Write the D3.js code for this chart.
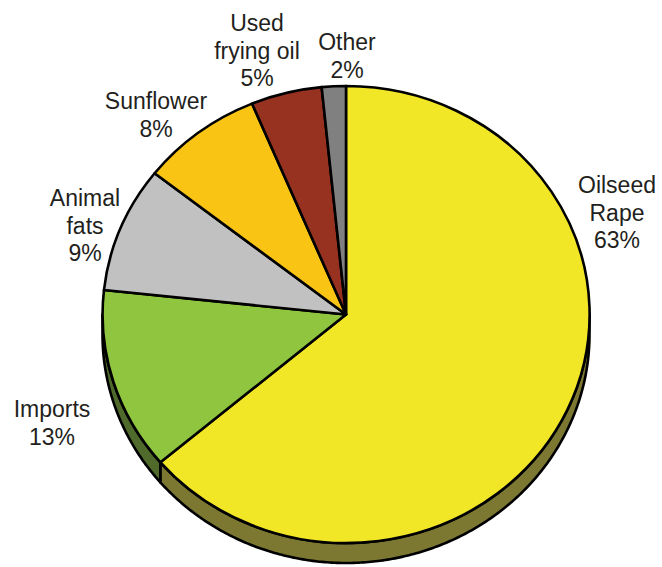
<!DOCTYPE html>
<html>
<head>
<meta charset="utf-8">
<script src="https://cdn.jsdelivr.net/npm/d3@7/dist/d3.min.js"></script>
<style>
  html, body { margin: 0; padding: 0; background: #ffffff; }
  svg { display: block; }
  text { font-family: "Liberation Sans", Arial, Helvetica, sans-serif; }
</style>
</head>
<body>
<svg id="chart" width="662" height="567"></svg>
<script>
// ---- data ----
const categories = ["Oilseed Rape", "Imports", "Animal fats", "Sunflower", "Used frying oil", "Other"];
// slice sizes (labels show rounded figures)
const values = [63.8, 12.9, 8.9, 8.1, 4.7, 1.6];
const labelLines = [
  ["Oilseed", "Rape", "63%"],
  ["Imports", "13%"],
  ["Animal", "fats", "9%"],
  ["Sunflower", "8%"],
  ["Used", "frying oil", "5%"],
  ["Other", "2%"]
];
const topColors = ["#f2e726", "#90c540", "#c1c1c1", "#f9c414", "#983220", "#808080"];
const sideColors = ["#7c7832", "#4f6a2b", "#8a8a8a", "#a8840e", "#5e1f14", "#555555"];

// ---- layout ----
const cx = 346, cy = 314.5, rx = 243.5, ry = 228.5, depth = 20;
const svg = d3.select("#chart");

const pie = d3.pie().sort(null).value(d => d)(values);

const pt = (a, off) => [cx + rx * Math.sin(a), cy - ry * Math.cos(a) + off];
const line = d3.line();

// side faces (front half only)
const gSide = svg.append("g");
pie.forEach((p, i) => {
  const a0 = Math.max(p.startAngle, Math.PI / 2);
  const a1 = Math.min(p.endAngle, 3 * Math.PI / 2);
  if (a1 <= a0) return;
  const n = Math.max(4, Math.ceil((a1 - a0) / 0.01));
  const angs = d3.range(n + 1).map(k => a0 + (a1 - a0) * k / n);
  const pts = angs.map(a => pt(a, 0)).concat(angs.slice().reverse().map(a => pt(a, depth)));
  gSide.append("path")
    .attr("d", line(pts) + "Z")
    .attr("fill", sideColors[i])
    .attr("stroke", "#000")
    .attr("stroke-width", 2.6)
    .attr("stroke-linejoin", "round");
});

// top face
const arc = d3.arc().innerRadius(0).outerRadius(1);
svg.append("g")
  .attr("transform", `translate(${cx},${cy}) scale(${rx},${ry})`)
  .selectAll("path")
  .data(pie)
  .join("path")
  .attr("d", arc)
  .attr("fill", (d, i) => topColors[i])
  .attr("stroke", "#000")
  .attr("stroke-width", 2.6)
  .attr("stroke-linejoin", "round")
  .attr("vector-effect", "non-scaling-stroke");

// labels
const labelPos = [
  [617, 193], [52, 417], [85, 206], [156, 109], [257, 31], [347, 50]
];
const lh = 27.6;
const gLab = svg.append("g");
labelLines.forEach((lines, i) => {
  const t = gLab.append("text")
    .attr("text-anchor", "middle")
    .attr("font-size", 23)
    .attr("fill", "#231f20");
  lines.forEach((s, k) => {
    t.append("tspan")
      .attr("x", labelPos[i][0])
      .attr("y", labelPos[i][1] + k * lh)
      .text(s);
  });
});
</script>
</body>
</html>
